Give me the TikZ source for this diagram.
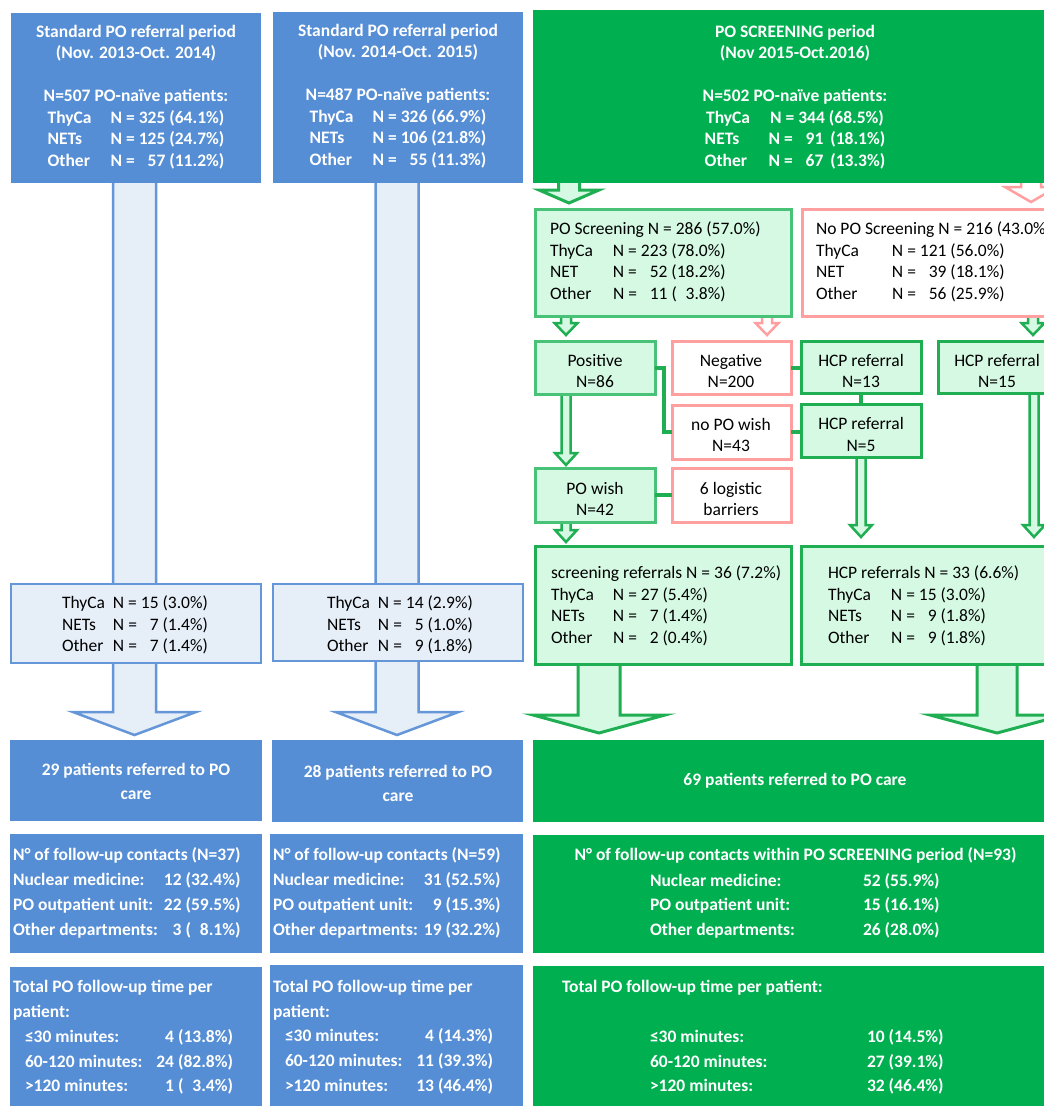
\documentclass[tikz,border=0pt]{standalone}
\usepackage{fontspec}
\setmainfont{Carlito}
\usetikzlibrary{calc}
\pgfdeclarelayer{background}
\pgfsetlayers{background,main}
\definecolor{bluebox}{HTML}{558ED5}
\definecolor{bluelight}{HTML}{E6EEF8}
\definecolor{blueline}{HTML}{6496D8}
\definecolor{greenbox}{HTML}{00B050}
\definecolor{greenlight}{HTML}{D5F9E3}
\definecolor{greenline}{HTML}{1FAE52}
\definecolor{greensoft}{HTML}{48C277}
\definecolor{pinkline}{HTML}{FF9F9F}
\tikzset{
  bx0/.style={inner sep=0pt, outer sep=0pt, font=\fontsize{17.5}{21.5}\selectfont},
  blubox/.style={bx0, fill=bluebox},
  blulight/.style={bx0, fill=bluelight, draw=blueline, line width=2.5pt},
  grnbox/.style={bx0, fill=greenbox},
  grnsoft/.style={bx0, fill=greenlight, draw=greensoft, line width=3pt},
  grnhard/.style={bx0, fill=greenlight, draw=greenline, line width=3pt},
  pinkbox/.style={bx0, fill=white, draw=pinkline, line width=3pt},
  wtxt/.style={bx0, text=white, font=\fontsize{17.5}{21.5}\selectfont\bfseries},
  btxt/.style={bx0, text=black},
  bluearrow/.style={fill=bluelight, draw=blueline, line width=2.5pt},
  grnarrow/.style={fill=greenlight, draw=greenline, line width=2.5pt},
  grnarrowbig/.style={fill=greenlight, draw=greenline, line width=3pt},
  pinkarrow/.style={fill=white, draw=pinkline, line width=2.5pt},
  conn/.style={draw=greenline, line width=4pt},
}
% box from (x1,y1) to (x2,y2), in pixels, y downward
\newcommand\bx[6]{\node[#1, minimum width={#4-#2}, minimum height={#5-#3}] (#6) at ({(#2+#4)/2},{(#3+#5)/2}) {};}
% block arrow: style, start, tip, half shaft, half head, head length
\newcommand\blockarrow[6]{%
  \path[#1] let \p1=(#2), \p2=(#3) in
   (\x2-#4,\y1) -- (\x2-#4,\y2+#6) -- (\x2-#5,\y2+#6) -- (\x2,\y2)
   -- (\x2+#5,\y2+#6) -- (\x2+#4,\y2+#6) -- (\x2+#4,\y1) -- cycle;}
\newcommand\lab[2]{\makebox[#1][l]{#2}}
\begin{document}
\begin{tikzpicture}[x=1pt,y=-1pt]
\useasboundingbox (0,0) rectangle (1044,1106);
% ---------- boxes ----------
\bx{blubox}{11}{13}{261}{183}{t1}
\bx{blubox}{273}{12}{523}{183}{t2}
\bx{grnbox}{533}{10}{1058}{183}{gt}
\bx{blulight}{11}{584}{261}{663}{m1}
\bx{blulight}{273}{584}{523}{661}{m2}
\bx{blubox}{10}{740}{262}{821}{r1}
\bx{blubox}{272}{740}{523}{822}{r2}
\bx{grnbox}{533}{740}{1058}{822}{gr}
\bx{blubox}{10}{834}{262}{953}{c1}
\bx{blubox}{270}{834}{523}{953}{c2}
\bx{grnbox}{533}{835}{1058}{953}{gc}
\bx{blubox}{10}{967}{262}{1110}{f1}
\bx{blubox}{270}{965}{523}{1110}{f2}
\bx{grnbox}{533}{966}{1058}{1110}{gf}
\bx{grnsoft}{535}{209}{791}{316}{ps}
\bx{pinkbox}{802}{209}{1060}{316}{nps}
\bx{grnsoft}{535}{341}{655}{394}{pos}
\bx{pinkbox}{672}{341}{791}{394}{neg}
\bx{grnhard}{801}{341}{921}{393}{h13}
\bx{grnhard}{938}{341}{1059}{393}{h15}
\bx{pinkbox}{672}{405}{791}{459}{npw}
\bx{grnhard}{801}{404}{921}{457}{h5}
\bx{grnsoft}{535}{468}{655}{522}{pw}
\bx{pinkbox}{672}{468}{791}{522}{lb}
\bx{grnhard}{535}{546}{791}{664}{sr}
\bx{grnhard}{801}{546}{1060}{664}{hr}
% ---------- arrows (behind boxes) ----------
\begin{pgfonlayer}{background}
\blockarrow{bluearrow}{$(t1.south)+(0,-4)$}{$(r1.north)+(-1.5,-5)$}{21.5pt}{61.5pt}{23pt}
\blockarrow{bluearrow}{$(t2.south)+(0,-4)$}{$(r2.north)+(-0.5,-5)$}{21.5pt}{61.5pt}{23pt}
\blockarrow{grnarrowbig}{$(gt.south)+(0,-4)$}{$(ps.north west)+(34,-6)$}{10.5pt}{30pt}{13pt}
\blockarrow{pinkarrow}{$(gt.south)+(0,-4)$}{$(nps.north west)+(229,-7)$}{10pt}{26pt}{15pt}
\blockarrow{grnarrow}{$(ps.south)+(0,-3)$}{$(pos.north west)+(31,-6)$}{5pt}{11.5pt}{12pt}
\blockarrow{pinkarrow}{$(ps.south)+(0,-3)$}{$(neg.north west)+(95,-6)$}{5pt}{11.5pt}{12pt}
\blockarrow{grnarrow}{$(nps.south)+(0,-3)$}{$(h15.north west)+(95,-6)$}{5pt}{11.5pt}{12pt}
\blockarrow{grnarrow}{$(pos.south)+(0,-3)$}{$(pw.north west)+(31,-3)$}{4.5pt}{11pt}{12pt}
\blockarrow{grnarrow}{$(pw.south)+(0,-3)$}{$(sr.north west)+(31,-4)$}{4.5pt}{11pt}{12pt}
\blockarrow{grnarrow}{$(h5.south)+(0,-3)$}{$(hr.north west)+(60,-9)$}{4.5pt}{11pt}{12pt}
\blockarrow{grnarrow}{$(h15.south)+(0,-3)$}{$(hr.north west)+(233,-9)$}{4.5pt}{11pt}{12pt}
\blockarrow{grnarrowbig}{$(sr.south)+(0,-3)$}{$(gr.north west)+(66,-7)$}{21pt}{66pt}{18pt}
\blockarrow{grnarrowbig}{$(hr.south)+(0,-3)$}{$(gr.north west)+(464,-7)$}{20pt}{67pt}{18pt}
\end{pgfonlayer}
% ---------- connectors ----------
\draw[conn] (pos.east) -- ++(9,0) |- (npw.west);
\draw[conn] (neg.east) -- (neg.east -| h13.west);
\draw[conn] (h13.south) -- (h5.north);
\draw[conn] (npw.east) -- (npw.east -| h5.west);
\draw[conn] (pw.east) -- (lb.west);
% ---------- texts: top ----------
\node[wtxt, align=center] (t1txt) at (136,97) {Standard PO referral period\\(Nov. 2013-Oct. 2014)\\[21.5pt]N=507 PO-naïve patients:\\\lab{63pt}{ThyCa}N = 325 (64.1\%)\\\lab{63pt}{NETs}N = 125 (24.7\%)\\\lab{63pt}{Other}N = \hphantom{0}57 (11.2\%)};
\node[wtxt, align=center] (t2txt) at (398,96) {Standard PO referral period\\(Nov. 2014-Oct. 2015)\\[21.5pt]N=487 PO-naïve patients:\\\lab{63pt}{ThyCa}N = 326 (66.9\%)\\\lab{63pt}{NETs}N = 106 (21.8\%)\\\lab{63pt}{Other}N = \hphantom{0}55 (11.3\%)};
\node[wtxt, align=center] (gttxt) at (795,97) {PO SCREENING period\\(Nov 2015-Oct.2016)\\[21.5pt]N=502 PO-naïve patients:\\\lab{64pt}{ThyCa}N = 344 (68.5\%)\\\lab{64pt}{NETs}N = \hphantom{0}91 \,(18.1\%)\\\lab{64pt}{Other}N = \hphantom{0}67 \,(13.3\%)};
% ---------- texts: blue middle ----------
\node[btxt, align=left, anchor=west] (m1txt) at (62,625) {\lab{51pt}{ThyCa}N = 15 (3.0\%)\\\lab{51pt}{NETs}N = \hphantom{0}7 (1.4\%)\\\lab{51pt}{Other}N = \hphantom{0}7 (1.4\%)};
\node[btxt, align=left, anchor=west] (m2txt) at (327,625) {\lab{51pt}{ThyCa}N = 14 (2.9\%)\\\lab{51pt}{NETs}N = \hphantom{0}5 (1.0\%)\\\lab{51pt}{Other}N = \hphantom{0}9 (1.8\%)};
% ---------- texts: green flow ----------
\node[btxt, align=left, anchor=west] (pstxt) at (550,262) {PO Screening N = 286 (57.0\%)\\\lab{63pt}{ThyCa}N = 223 (78.0\%)\\\lab{63pt}{NET}N = \hphantom{0}52 (18.2\%)\\\lab{63pt}{Other}N = \hphantom{0}11 (\hphantom{0}3.8\%)};
\node[btxt, align=left, anchor=west] (npstxt) at (816,262) {No PO Screening N = 216 (43.0\%)\\\lab{76pt}{ThyCa}N = 121 (56.0\%)\\\lab{76pt}{NET}N = \hphantom{0}39 (18.1\%)\\\lab{76pt}{Other}N = \hphantom{0}56 (25.9\%)};
\node[btxt, align=center] (postxt) at (595,371) {Positive\\N=86};
\node[btxt, align=center] (negtxt) at (731,371) {Negative\\N=200};
\node[btxt, align=center] (h13txt) at (861,371) {HCP referral\\N=13};
\node[btxt, align=center] (h15txt) at (997,371) {HCP referral\\N=15};
\node[btxt, align=center] (npwtxt) at (731,435) {no PO wish\\N=43};
\node[btxt, align=center] (h5txt) at (861,434.5) {HCP referral\\N=5};
\node[btxt, align=center] (pwtxt) at (595,499) {PO wish\\N=42};
\node[btxt, align=center] (lbtxt) at (731,499) {6 logistic\\barriers};
\node[btxt, align=left, anchor=west] (srtxt) at (551,606) {screening referrals N = 36 (7.2\%)\\\lab{62pt}{ThyCa}N = 27 (5.4\%)\\\lab{62pt}{NETs}N = \hphantom{0}7 (1.4\%)\\\lab{62pt}{Other}N = \hphantom{0}2 (0.4\%)};
\node[btxt, align=left, anchor=west] (hrtxt) at (828,606) {HCP referrals N = 33 (6.6\%)\\\lab{63pt}{ThyCa}N = 15 (3.0\%)\\\lab{63pt}{NETs}N = \hphantom{0}9 (1.8\%)\\\lab{63pt}{Other}N = \hphantom{0}9 (1.8\%)};
% ---------- texts: referred ----------
\node[wtxt, align=center, font=\fontsize{17.5}{24}\selectfont\bfseries] (r1txt) at (136,781) {29 patients referred to PO\\care};
\node[wtxt, align=center, font=\fontsize{17.5}{24}\selectfont\bfseries] (r2txt) at (398,783) {28 patients referred to PO\\care};
\node[wtxt] (grtxt) at (795,781) {69 patients referred to PO care};
% ---------- texts: contacts ----------
\node[wtxt, anchor=west, font=\fontsize{17.5}{24.7}\selectfont\bfseries] (c1txt) at (13,893) {\begin{tabular*}{227pt}{@{}l@{\extracolsep{\fill}}r@{}}\multicolumn{2}{@{}l@{}}{N° of follow-up contacts (N=37)}\\Nuclear medicine: & 12 (32.4\%)\\PO outpatient unit: & 22 (59.5\%)\\Other departments: & 3 (\hphantom{0}8.1\%)\end{tabular*}};
\node[wtxt, anchor=west, font=\fontsize{17.5}{24.7}\selectfont\bfseries] (c2txt) at (273,893) {\begin{tabular*}{227pt}{@{}l@{\extracolsep{\fill}}r@{}}\multicolumn{2}{@{}l@{}}{N° of follow-up contacts (N=59)}\\Nuclear medicine: & 31 (52.5\%)\\PO outpatient unit: & 9 (15.3\%)\\Other departments: & 19 (32.2\%)\end{tabular*}};
\node[wtxt] (gctitle) at (795.5,855) {N° of follow-up contacts within PO SCREENING period (N=93)};
\node[wtxt, anchor=west, font=\fontsize{17.5}{24.5}\selectfont\bfseries] (gcrows) at (650,906) {\begin{tabular}{@{}p{213pt}@{}l@{}}Nuclear medicine: & 52 (55.9\%)\\PO outpatient unit: & 15 (16.1\%)\\Other departments: & 26 (28.0\%)\end{tabular}};
% ---------- texts: follow-up time ----------
\node[wtxt, anchor=west, font=\fontsize{17.5}{24.75}\selectfont\bfseries] (f1txt) at (13,1037.5) {\begin{tabular*}{220pt}{@{\hspace{12pt}}l@{\extracolsep{\fill}}r@{}}\multicolumn{2}{@{}l@{}}{Total PO follow-up time per}\\\multicolumn{2}{@{}l@{}}{patient:}\\≤30 minutes: & 4 (13.8\%)\\60-120 minutes: & 24 (82.8\%)\\>120 minutes: & 1 (\hphantom{0}3.4\%)\end{tabular*}};
\node[wtxt, anchor=west, font=\fontsize{17.5}{24.75}\selectfont\bfseries] (f2txt) at (273,1037) {\begin{tabular*}{220pt}{@{\hspace{12pt}}l@{\extracolsep{\fill}}r@{}}\multicolumn{2}{@{}l@{}}{Total PO follow-up time per}\\\multicolumn{2}{@{}l@{}}{patient:}\\≤30 minutes: & 4 (14.3\%)\\60-120 minutes: & 11 (39.3\%)\\>120 minutes: & 13 (46.4\%)\end{tabular*}};
\node[wtxt, anchor=west] (gftitle) at (562,988) {Total PO follow-up time per patient:};
\node[wtxt, anchor=west, font=\fontsize{17.5}{24.5}\selectfont\bfseries] (gfrows) at (650,1062.5) {\begin{tabular}{@{}p{217pt}@{}l@{}}≤30 minutes: & 10 (14.5\%)\\60-120 minutes: & 27 (39.1\%)\\>120 minutes: & 32 (46.4\%)\end{tabular}};
\end{tikzpicture}
\end{document}
